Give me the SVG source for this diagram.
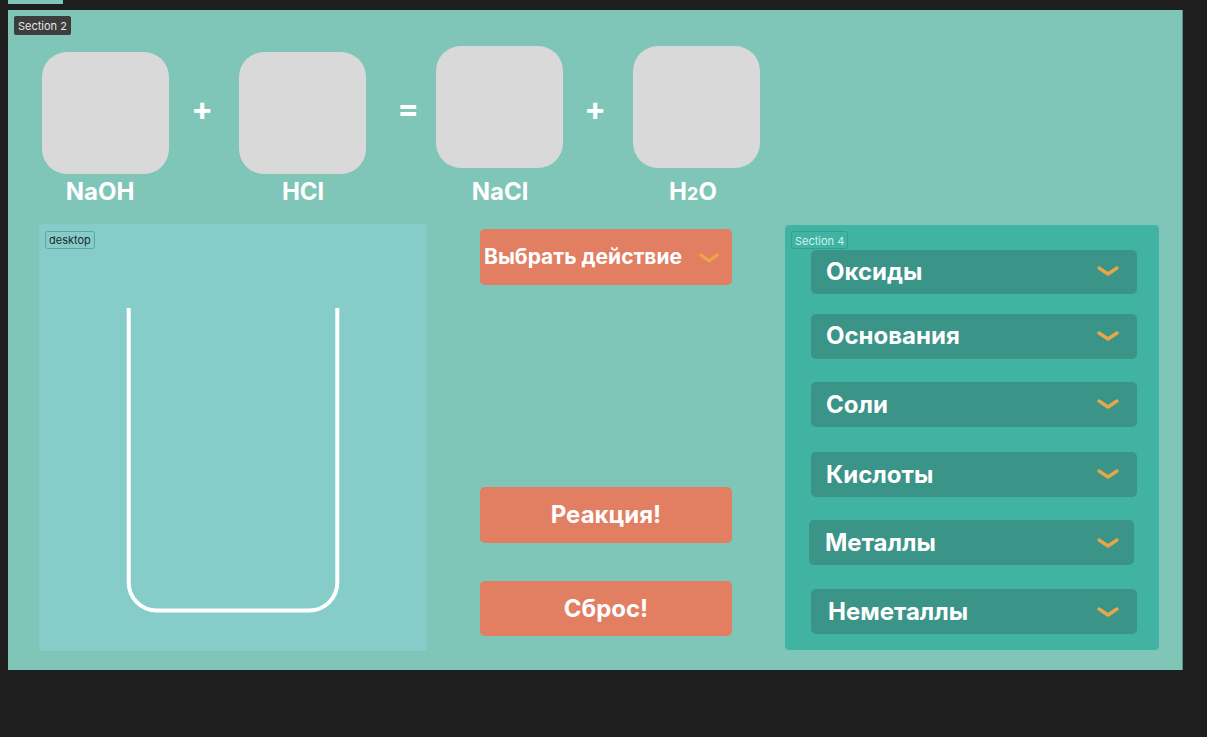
<svg xmlns="http://www.w3.org/2000/svg" width="1207" height="737" viewBox="0 0 1207 737">
<style>
.t{font-family:Inter,"Liberation Sans",sans-serif;font-weight:700;fill:#ffffff}
.sm{font-family:Inter,"Liberation Sans",sans-serif;font-size:11px}
.box{fill:#D9D9D9}
.btn{fill:#E27E62}
.dd{fill:#3A9488}
.chev{fill:none;stroke:#E8A64A;stroke-width:3.4;stroke-linecap:round;stroke-linejoin:round}
</style>
<rect x="0" y="0" width="1207" height="737" fill="#1E1E1E"/>
<rect x="8" y="0" width="55" height="4" fill="#7FC6B8"/>
<g id="section2">
<rect x="8" y="10" width="1174" height="660" fill="#7FC6B8"/>
<line x1="1182.5" y1="10" x2="1182.5" y2="670" stroke="#5a8f86" stroke-width="1"/>
<rect x="14" y="16" width="57" height="19" rx="2" fill="#3D3D3D"/>
<text class="sm" x="18" y="30" fill="#E6E6E6">Section 2</text>
</g>
<g id="naoh">
<rect class="box" x="42" y="52" width="127" height="122" rx="25"/>
<text class="t" x="100" y="200" font-size="24" text-anchor="middle">NaOH</text>
</g>
<text class="t" x="202" y="120" font-size="32" text-anchor="middle">+</text>
<g id="hcl">
<rect class="box" x="239" y="52" width="127" height="122" rx="25"/>
<text class="t" x="303" y="200" font-size="24" text-anchor="middle">HCl</text>
</g>
<text class="t" x="408" y="120" font-size="32" text-anchor="middle">=</text>
<g id="nacl">
<rect class="box" x="436" y="46" width="127" height="122" rx="25"/>
<text class="t" x="500" y="200" font-size="24" text-anchor="middle">NaCl</text>
</g>
<text class="t" x="595" y="120" font-size="32" text-anchor="middle">+</text>
<g id="h2o">
<rect class="box" x="633" y="46" width="127" height="122" rx="25"/>
<text class="t" x="693" y="200" font-size="24" text-anchor="middle">H<tspan font-size="18">2</tspan>O</text>
</g>
<g id="desktop">
<rect x="39" y="224" width="388" height="427" rx="4" fill="#86CDCA"/>
<rect x="45.5" y="231.5" width="49" height="17" rx="2" fill="none" stroke="#5FA7A3" stroke-width="1"/>
<text class="sm" x="49" y="244" fill="#1E2B2A">desktop</text>
<path d="M128.7 308 V582 A28 28 0 0 0 156.7 610.5 H309.3 A28 28 0 0 0 337.3 582 V308" fill="none" stroke="#FFFFFF" stroke-width="4"/>
</g>
<g id="choose">
<rect class="btn" x="480" y="229" width="252" height="56" rx="5"/>
<text class="t" x="484" y="264" font-size="21">Выбрать действие</text>
<polyline class="chev" points="701,255 709,261 717,255"/>
</g>
<g id="reaction">
<rect class="btn" x="480" y="487" width="252" height="56" rx="5"/>
<text class="t" x="606" y="523" font-size="24" text-anchor="middle">Реакция!</text>
</g>
<g id="reset">
<rect class="btn" x="480" y="581" width="252" height="55" rx="5"/>
<text class="t" x="606" y="617" font-size="24" text-anchor="middle">Сброс!</text>
</g>
<g id="section4">
<rect x="785" y="225" width="374" height="425" rx="4" fill="#40B3A2"/>
<rect x="791.5" y="231.5" width="56" height="17" rx="2" fill="none" stroke="#36A090" stroke-width="1"/>
<text class="sm" x="795" y="245" fill="#D6F0EC">Section 4</text>
</g>
<g id="oxides">
<rect class="dd" x="811" y="250" width="326" height="44" rx="5"/>
<text class="t" x="826" y="280" font-size="24">Оксиды</text>
<polyline class="chev" points="1099,268 1108,274 1117,268"/>
</g>
<g id="bases">
<rect class="dd" x="811" y="314" width="326" height="45" rx="5"/>
<text class="t" x="826" y="344" font-size="24">Основания</text>
<polyline class="chev" points="1099,333 1108,339 1117,333"/>
</g>
<g id="salts">
<rect class="dd" x="811" y="382" width="326" height="45" rx="5"/>
<text class="t" x="826" y="413" font-size="24">Соли</text>
<polyline class="chev" points="1099,401 1108,407 1117,401"/>
</g>
<g id="acids">
<rect class="dd" x="811" y="452" width="326" height="45" rx="5"/>
<text class="t" x="826" y="483" font-size="24">Кислоты</text>
<polyline class="chev" points="1099,471 1108,477 1117,471"/>
</g>
<g id="metals">
<rect class="dd" x="809" y="520" width="325" height="45" rx="5"/>
<text class="t" x="825" y="551" font-size="24">Металлы</text>
<polyline class="chev" points="1099,540 1108,546 1117,540"/>
</g>
<g id="nonmetals">
<rect class="dd" x="811" y="589" width="326" height="45" rx="5"/>
<text class="t" x="828" y="620" font-size="24">Неметаллы</text>
<polyline class="chev" points="1099,609 1108,615 1117,609"/>
</g>
<g id="connectors"></g>
</svg>
